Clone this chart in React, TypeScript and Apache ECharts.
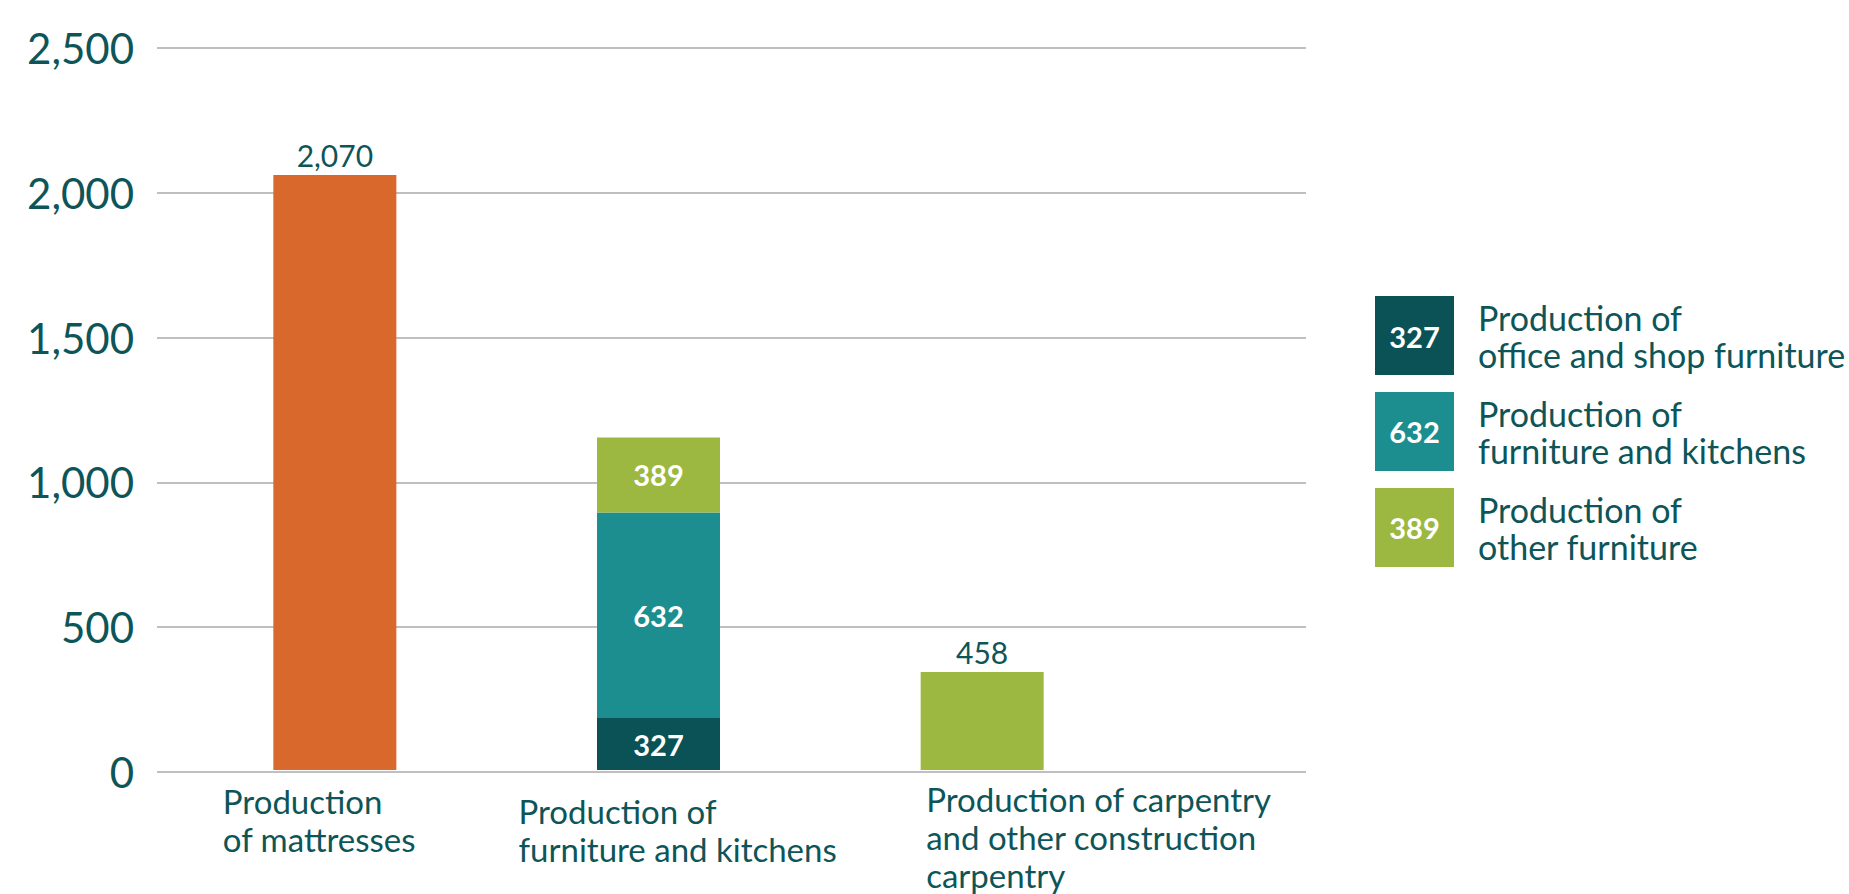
import React, { useEffect, useRef } from "react";
import * as echarts from "echarts";

// Category names (x axis)
const categories = [
  "Production\nof mattresses",
  "Production of\nfurniture and kitchens",
  "Production of carpentry\nand other construction\ncarpentry",
];

// Bar heights as drawn and the printed labels
const mattresses = [2060, "-", "-"];
const mattressesLabels = ["2,070", "", ""];
const officeShop = ["-", 180, "-"];
const officeShopLabels = ["", "327", ""];
const furnitureKitchens = ["-", 712, "-"];
const furnitureKitchensLabels = ["", "632", ""];
const otherFurniture = ["-", 259, "-"];
const otherFurnitureLabels = ["", "389", ""];
const carpentry = ["-", "-", 339];
const carpentryLabels = ["", "", "458"];

// Legend
const legendNames = [
  "Production of\noffice and shop furniture",
  "Production of\nfurniture and kitchens",
  "Production of\nother furniture",
];
const legendValues = ["327", "632", "389"];

// Y axis
const yMin = 0;
const yMax = 2500;
const yInterval = 500;

const TEXT = "#0D5558";
const FONT = "Lato";

export default function App() {
  const ref = useRef<HTMLDivElement>(null);
  useEffect(() => {
    document.body.style.margin = "0";
    const chart = echarts.init(ref.current!, null, { renderer: "svg" });

    const insideLabel = (labels: string[]) => ({
      show: true,
      position: "inside",
      color: "#ffffff",
      fontFamily: FONT,
      fontWeight: "bold",
      fontSize: 29,
      formatter: (p: any) => labels[p.dataIndex],
    });
    const topLabel = (labels: string[]) => ({
      show: true,
      position: "top",
      distance: 5,
      color: TEXT,
      fontFamily: FONT,
      fontSize: 30,
      formatter: (p: any) => labels[p.dataIndex],
    });

    const xPadLeft = [-112, -140, -56];
    const xPadTop = [2, 12, 0];

    const option: any = {
      animation: false,
      grid: [
        { left: 157, right: 543, top: 48, bottom: 122 },
        { left: 173, width: 971, top: 48, bottom: 122 },
      ],
      xAxis: [
        { type: "category", gridIndex: 0, show: false, data: categories },
        {
          type: "category",
          gridIndex: 1,
          data: categories.map((c, i) => ({
            value: c,
            textStyle: {
              align: "left",
              verticalAlign: "top",
              padding: [xPadTop[i], 0, 0, xPadLeft[i]],
            },
          })),
          axisLine: { show: false },
          axisTick: { show: false },
          axisLabel: {
            interval: 0,
            align: "left",
            verticalAlign: "top",
            margin: 10,
            color: TEXT,
            fontFamily: FONT,
            fontSize: 33,
            lineHeight: 38,
          },
        },
      ],
      yAxis: [
        {
          type: "value",
          gridIndex: 0,
          min: yMin,
          max: yMax,
          interval: yInterval,
          axisLine: { show: false },
          axisTick: { show: false },
          axisLabel: {
            margin: 23,
            color: TEXT,
            fontFamily: FONT,
            fontSize: 42,
            formatter: (v: number) => v.toLocaleString("en-US"),
          },
          splitLine: { lineStyle: { color: "#BFBFBF", width: 2 } },
        },
        {
          type: "value",
          gridIndex: 1,
          min: yMin,
          max: yMax,
          interval: yInterval,
          show: false,
          splitLine: { show: false },
        },
      ],
      legend: {
        orient: "vertical",
        left: 1375,
        top: 296,
        padding: 0,
        itemWidth: 79,
        itemHeight: 79,
        itemGap: 17,
        icon: "rect",
        selectedMode: false,
        data: legendNames,
        textStyle: {
          color: TEXT,
          fontFamily: FONT,
          fontSize: 34,
          lineHeight: 37,
          padding: [0, 0, 0, 19],
        },
      },
      graphic: legendValues.map((v, i) => ({
        type: "text",
        z: 100,
        x: 1414.5,
        y: 336 + i * 95.7,
        style: {
          text: v,
          fill: "#ffffff",
          font: `bold 29px ${FONT}`,
          align: "center",
          verticalAlign: "middle",
        },
      })),
      series: [
        {
          name: "Production of mattresses",
          type: "bar",
          stack: "total",
          xAxisIndex: 1,
          yAxisIndex: 1,
          barWidth: 123,
          data: mattresses,
          itemStyle: { color: "#D8682C" },
          label: topLabel(mattressesLabels),
        },
        {
          name: legendNames[0],
          type: "bar",
          stack: "total",
          xAxisIndex: 1,
          yAxisIndex: 1,
          barWidth: 123,
          data: officeShop,
          itemStyle: { color: "#0A5256" },
          label: insideLabel(officeShopLabels),
        },
        {
          name: legendNames[1],
          type: "bar",
          stack: "total",
          xAxisIndex: 1,
          yAxisIndex: 1,
          barWidth: 123,
          data: furnitureKitchens,
          itemStyle: { color: "#1C8E8F" },
          label: insideLabel(furnitureKitchensLabels),
        },
        {
          name: legendNames[2],
          type: "bar",
          stack: "total",
          xAxisIndex: 1,
          yAxisIndex: 1,
          barWidth: 123,
          data: otherFurniture,
          itemStyle: { color: "#9CB840" },
          label: insideLabel(otherFurnitureLabels),
        },
        {
          name: "Production of carpentry and other construction carpentry",
          type: "bar",
          stack: "total",
          xAxisIndex: 1,
          yAxisIndex: 1,
          barWidth: 123,
          data: carpentry,
          itemStyle: { color: "#9CB840" },
          label: topLabel(carpentryLabels),
        },
      ],
    };
    chart.setOption(option);
    return () => chart.dispose();
  }, []);
  return <div ref={ref} style={{ width: 1849, height: 894 }} />;
}
